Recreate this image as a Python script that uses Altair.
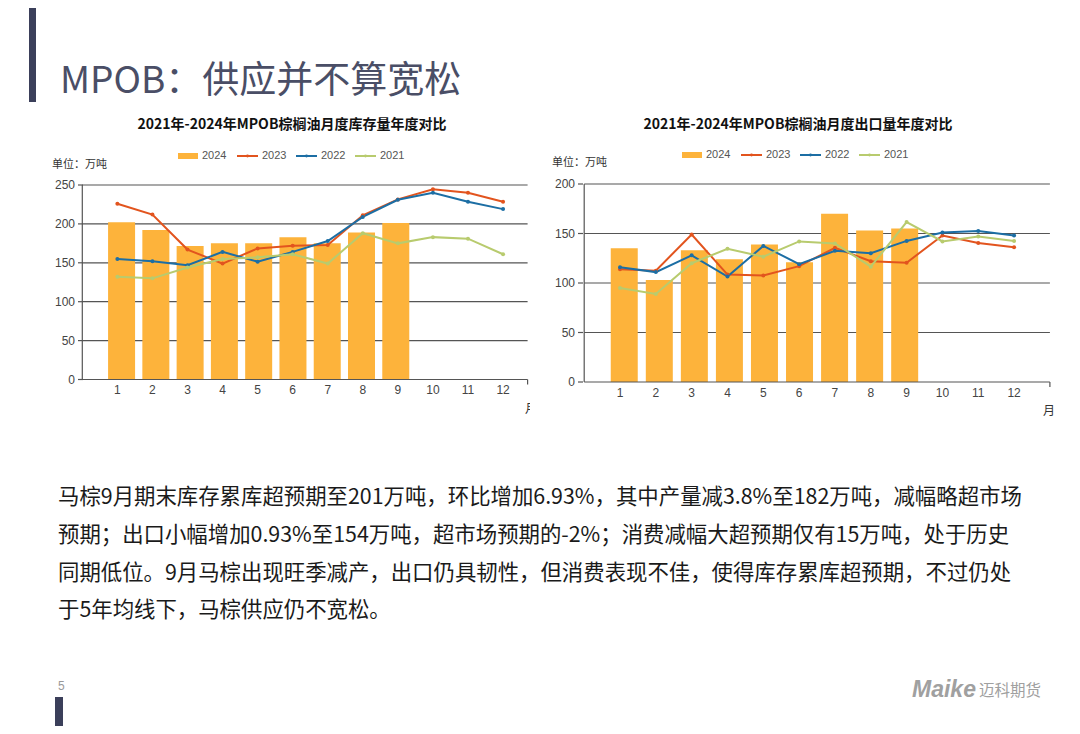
import altair as alt
import pandas as pd

# ---------------- data ----------------
months = list(range(1, 13))
years = ["2024", "2023", "2022", "2021"]

# Left: MPOB palm oil monthly ending stocks (万吨)
stock_2024 = [202, 192, 171.5, 175, 175, 183, 175, 189, 201]
stock_2023 = [226, 212, 167, 149, 168.5, 172, 173, 211, 231.5, 244.5, 240, 228.5]
stock_2022 = [155, 152, 147, 164, 151.5, 164, 178, 209, 231, 240, 228.5, 219]
stock_2021 = [132, 130, 144, 155, 157, 161, 149, 188, 175, 183, 181, 161]
stock_ticks = [0, 50, 100, 150, 200, 250]

# Right: MPOB palm oil monthly exports (万吨)
exp_2024 = [135, 103, 133, 124, 139, 121, 170, 153, 155]
exp_2023 = [114, 112.5, 149, 108.5, 107.5, 117, 135.5, 122, 120.5, 148, 140.5, 136]
exp_2022 = [116, 111, 128, 106.5, 137.5, 119, 132.5, 130, 142.5, 151, 152.5, 148]
exp_2021 = [95, 89, 120, 134.5, 126.5, 142, 140, 116.5, 161.5, 142, 147, 142.5]
exp_ticks = [0, 50, 100, 150, 200]

page_title = "MPOB：供应并不算宽松"
left_title = "2021年-2024年MPOB棕榈油月度库存量年度对比"
right_title = "2021年-2024年MPOB棕榈油月度出口量年度对比"
unit_label = "单位：万吨"
month_label = "月"
paragraph = [
    "马棕9月期末库存累库超预期至201万吨，环比增加6.93%，其中产量减3.8%至182万吨，减幅略超市场",
    "预期；出口小幅增加0.93%至154万吨，超市场预期的-2%；消费减幅大超预期仅有15万吨，处于历史",
    "同期低位。9月马棕出现旺季减产，出口仍具韧性，但消费表现不佳，使得库存累库超预期，不过仍处",
    "于5年均线下，马棕供应仍不宽松。",
]
page_no = "5"

# ---------------- styles ----------------
BAR = "#FDB33B"
C2023 = "#E2541E"
C2022 = "#1C6EA4"
C2021 = "#B8CB6E"
line_colors = [C2023, C2022, C2021]
GRID = "#555555"
TXT = "#444444"
CJK = "Noto Sans CJK SC"
LAT = "Liberation Sans"

one = pd.DataFrame({"k": [0]})


def text_layer(txt, x, y, size, color="#333", font=CJK, weight="normal", align="left",
               style="normal"):
    return alt.Chart(one).mark_text(
        text=txt, align=align, baseline="middle", fontSize=size, color=color,
        font=font, fontWeight=weight, fontStyle=style,
    ).encode(x=alt.value(x), y=alt.value(y))


def panel(bars, lines, ticks, xdom, xrng, ydom, yrng, title_x, title, legend_x, legend_y,
          unit_x, unit_y, ylab_x, xlab_y, month_x, month_y):
    layers = []
    xs = alt.Scale(domain=xdom, range=xrng)
    ys = alt.Scale(domain=ydom, range=yrng)

    def X(f="month:Q"):
        return alt.X(f, scale=xs, axis=None)

    def Y(f="value:Q"):
        return alt.Y(f, scale=ys, axis=None)

    # gridlines
    gdf = pd.DataFrame({"value": [t for t in ticks if t > 0]})
    gdf["month"] = xdom[0]
    gdf["month2"] = xdom[1]
    layers.append(alt.Chart(gdf).mark_rule(color=GRID, strokeWidth=1.2).encode(
        y=Y(), x=X(), x2="month2:Q"))
    # bars
    bdf = pd.DataFrame({"month": months[:len(bars)], "value": bars})
    layers.append(alt.Chart(bdf).mark_bar(width=27, color=BAR).encode(x=X(), y=Y()))
    # lines
    rows = []
    for yr, vals in zip(years[1:], lines):
        for m, v in zip(months, vals):
            rows.append({"month": m, "value": v, "year": yr})
    ldf = pd.DataFrame(rows)
    cscale = alt.Scale(domain=years[1:], range=line_colors)
    layers.append(alt.Chart(ldf).mark_line(strokeWidth=2).encode(
        x=X(), y=Y(), color=alt.Color("year:N", scale=cscale, legend=None)))
    layers.append(alt.Chart(ldf).mark_circle(size=16, opacity=1).encode(
        x=X(), y=Y(), color=alt.Color("year:N", scale=cscale, legend=None)))
    # axis lines
    adf = pd.DataFrame({"month": [xdom[0]], "month2": [xdom[1]],
                        "value": [ydom[0]], "value2": [ydom[1]]})
    layers.append(alt.Chart(adf).mark_rule(color=GRID, strokeWidth=1.2).encode(
        x=X(), y=Y(), y2="value2:Q"))
    layers.append(alt.Chart(adf).mark_rule(color=GRID, strokeWidth=1.2).encode(
        y=Y(), x=X(), x2="month2:Q"))
    layers.append(alt.Chart(adf).mark_rule(color=GRID, strokeWidth=1.2).encode(
        x=X("month2:Q"), y=alt.value(yrng[0]), y2=alt.value(yrng[0] + 5)))
    # y ticks and labels
    tdf = pd.DataFrame({"value": ticks})
    layers.append(alt.Chart(tdf).mark_rule(color=GRID, strokeWidth=1.2).encode(
        y=Y(), x=alt.value(ylab_x + 3), x2=alt.value(ylab_x + 8)))
    layers.append(alt.Chart(tdf).mark_text(align="right", baseline="middle", fontSize=12,
                                           font=LAT, color=TXT).encode(
        y=Y(), x=alt.value(ylab_x), text="value:Q"))
    # x labels
    mdf = pd.DataFrame({"month": months})
    layers.append(alt.Chart(mdf).mark_text(align="center", baseline="middle", fontSize=12,
                                           font=LAT, color=TXT).encode(
        x=X(), y=alt.value(xlab_y), text="month:Q"))
    # titles
    layers.append(text_layer(title, title_x, 117, 14, color="#111", weight="bold", align="center"))
    layers.append(text_layer(unit_label, unit_x, unit_y, 11, color="#333"))
    layers.append(text_layer(month_label, month_x, month_y, 12, color="#333"))
    # legend
    lx = legend_x
    layers.append(alt.Chart(one).mark_rect(color=BAR).encode(
        x=alt.value(lx), x2=alt.value(lx + 20), y=alt.value(legend_y - 3),
        y2=alt.value(legend_y + 3)))
    layers.append(text_layer(years[0], lx + 24, legend_y, 11, color="#555", font=LAT))
    for i, (yr, col) in enumerate(zip(years[1:], line_colors)):
        sx = lx + 59 + i * 59
        layers.append(alt.Chart(one).mark_rule(color=col, strokeWidth=2).encode(
            x=alt.value(sx), x2=alt.value(sx + 21), y=alt.value(legend_y)))
        layers.append(alt.Chart(one).mark_circle(color=col, size=8, opacity=1).encode(
            x=alt.value(sx + 10.5), y=alt.value(legend_y)))
        layers.append(text_layer(yr, sx + 25, legend_y, 11, color="#555", font=LAT))
    return layers


L = []
# page decorations
L.append(alt.Chart(one).mark_rect(color="#3B3F5A").encode(
    x=alt.value(21), x2=alt.value(28), y=alt.value(0), y2=alt.value(94)))
L.append(alt.Chart(one).mark_rect(color="#3B3F5A").encode(
    x=alt.value(47), x2=alt.value(55), y=alt.value(689), y2=alt.value(718)))
L.append(text_layer(page_title, 52, 74, 37, color="#4A4E66"))

L += panel(stock_2024, [stock_2023, stock_2022, stock_2021], stock_ticks,
           [0, 12.7], [74.3, 519.6], [0, 250], [371.5, 177],
           title_x=284, title=left_title, legend_x=170, legend_y=148,
           unit_x=44, unit_y=157, ylab_x=67, xlab_y=382, month_x=517, month_y=401)
# clip of the left "月" as in the reference
L.append(alt.Chart(one).mark_rect(color="white").encode(
    x=alt.value(522), x2=alt.value(532), y=alt.value(390), y2=alt.value(412)))

L += panel(exp_2024, [exp_2023, exp_2022, exp_2021], exp_ticks,
           [0, 13], [576.2, 1041.9], [0, 200], [374, 176],
           title_x=790, title=right_title, legend_x=674, legend_y=147,
           unit_x=544, unit_y=155, ylab_x=567, xlab_y=385, month_x=1035, month_y=403)

for i, line in enumerate(paragraph):
    L.append(text_layer(line, 50, 490 + i * 37.8, 21.4, color="#1A1A1A"))

L.append(text_layer(page_no, 50, 678, 12, color="#999", font=LAT))
L.append(text_layer("Maike", 904, 682, 23, color="#A0A0A0", font=LAT, weight="bold",
                    style="italic"))
L.append(text_layer("迈科期货", 971, 683, 15.5, color="#A0A0A0"))

chart = alt.layer(*L).resolve_scale(
    x="independent", y="independent", color="independent"
).properties(
    width=1064, height=718, autosize=alt.AutoSizeParams(type="none"), padding=0
).configure_view(stroke=None)

chart.save("out.html", embed_options={"renderer": "svg", "actions": False})
